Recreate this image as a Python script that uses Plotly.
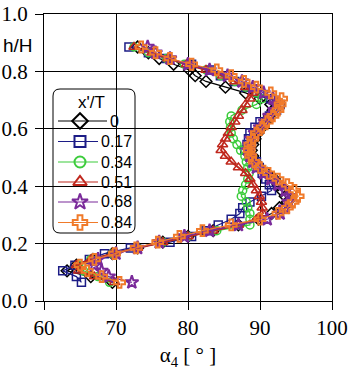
import plotly.graph_objects as go

# Measurement heights (h/H) shared by all traverses
h_levels = [0.065, 0.085, 0.105, 0.125, 0.145, 0.165, 0.185, 0.205, 0.225, 0.245,
            0.265, 0.285, 0.305, 0.325, 0.345, 0.365, 0.385, 0.405, 0.425, 0.445,
            0.465, 0.485, 0.505, 0.525, 0.545, 0.565, 0.585, 0.605, 0.625, 0.645,
            0.665, 0.685, 0.705, 0.725, 0.745, 0.765, 0.785, 0.805, 0.825, 0.845,
            0.865, 0.885]

# Flow angle alpha_4 [deg] at each height, one list per x'/T station
alpha_000 = [69.5, 66.5, 63.2, 64.5, 66.8, 69.5, 73.0, 76.5, 80.0, 83.5,
             87.0, 89.8, 91.6, 92.7, 93.8, 93.5, 93.0, 92.5, 92.0, 91.0,
             90.0, 89.3, 89.0, 88.8, 89.0, 89.3, 89.7, 90.3, 90.8, 91.3,
             91.8, 91.5, 90.0, 88.0, 85.2, 82.5, 81.0, 80.2, 78.0, 76.0,
             74.5, 73.0]
alpha_017 = [65.2, 64.5, 62.6, 64.3, 66.3, 68.4, 72.0, 77.5, 80.5, 82.5,
             84.2, 86.0, 87.2, 87.6, 88.6, 90.2, 91.6, 91.3, 90.8, 90.3,
             89.9, 89.5, 88.5, 87.9, 88.2, 88.4, 88.6, 89.3, 90.0, 91.3,
             92.3, 92.8, 91.5, 90.0, 88.0, 86.5, 84.5, 83.2, 80.5, 77.0,
             74.5, 71.8]
alpha_034 = [69.1, 67.5, 65.5, 64.8, 66.5, 69.5, 73.0, 76.5, 80.0, 84.0,
             88.6, 88.6, 88.6, 88.3, 88.1, 87.4, 87.6, 88.0, 88.3, 88.5,
             88.3, 88.1, 87.9, 87.3, 86.8, 86.3, 86.0, 85.9, 85.8, 86.0,
             87.5, 89.5, 90.3, 89.5, 88.0, 86.5, 84.5, 82.5, 79.5, 77.0,
             74.5, 72.5]
alpha_051 = [69.8, 67.0, 64.8, 64.5, 66.5, 69.5, 73.0, 76.5, 80.0, 83.5,
             87.0, 89.5, 90.4, 90.3, 90.2, 89.9, 89.5, 89.0, 88.6, 88.0,
             87.0, 86.0, 85.2, 84.6, 84.8, 85.2, 85.6, 86.0, 86.5, 87.0,
             87.5, 88.0, 88.6, 89.0, 88.0, 86.5, 84.8, 82.5, 79.8, 77.2,
             75.0, 72.5]
alpha_068 = [72.2, 69.0, 68.0, 67.0, 67.5, 70.0, 73.0, 76.0, 79.5, 83.0,
             87.0, 91.0, 92.8, 93.5, 94.0, 94.1, 93.5, 92.5, 91.5, 90.5,
             89.5, 89.0, 88.6, 88.4, 88.5, 88.8, 89.3, 90.0, 90.7, 91.3,
             92.0, 92.2, 91.8, 90.5, 89.0, 87.5, 85.5, 83.0, 80.0, 77.5,
             75.5, 74.4]
alpha_084 = [70.5, 68.0, 66.0, 65.0, 67.0, 69.8, 72.8, 75.8, 78.8, 82.0,
             86.0, 90.0, 92.5, 93.8, 94.6, 95.3, 94.8, 93.8, 92.5, 91.2,
             90.0, 89.2, 88.7, 88.5, 88.6, 89.0, 89.5, 90.3, 91.0, 91.8,
             92.5, 92.8, 93.0, 91.5, 89.5, 87.8, 86.0, 84.0, 80.5, 77.5,
             75.5, 73.5]

station_labels = ["0", "0.17", "0.34", "0.51", "0.68", "0.84"]
station_data = [alpha_000, alpha_017, alpha_034, alpha_051, alpha_068, alpha_084]

styles = [
    dict(color="#000000", symbol="diamond-open", size=9, lw=1.2, mlw=1.5, lsize=12),
    dict(color="#1c1c86", symbol="square-open", size=8, lw=1.2, mlw=1.5, lsize=11),
    dict(color="#3ccc3c", symbol="circle-open", size=8, lw=1.2, mlw=1.5, lsize=11),
    dict(color="#c0281e", symbol="triangle-up-open", size=9, lw=2.0, mlw=1.5, lsize=12),
    dict(color="#7a2a9a", symbol="star-open", size=10, lw=1.2, mlw=2, lsize=12),
    dict(color="#f07a2a", symbol="cross-open", size=9, lw=1.2, mlw=2, lsize=12),
]

W, H = 350, 371
ml, mr, mt, mb = 44, 18, 14, 70
pw, ph = W - ml - mr, H - mt - mb
X_RANGE = [60, 100]
Y_RANGE = [0, 1]


def px_x(p):
    return (p - ml) / pw


def px_y(p):
    return (H - mb - p) / ph


def px_to_data_x(p):
    return X_RANGE[0] + px_x(p) * (X_RANGE[1] - X_RANGE[0])


def px_to_data_y(p):
    return Y_RANGE[0] + px_y(p) * (Y_RANGE[1] - Y_RANGE[0])


serif = "Times New Roman, Times, Liberation Serif, Tinos, serif"
sans = "Arial, Liberation Sans, Helvetica, sans-serif"

fig = go.Figure()
for label, xs, st in zip(station_labels, station_data, styles):
    fig.add_trace(go.Scatter(
        x=xs, y=h_levels, name=label, mode="lines+markers", showlegend=False,
        line=dict(color=st["color"], width=st["lw"]),
        marker=dict(symbol=st["symbol"], size=st["size"], color=st["color"],
                    line=dict(color=st["color"], width=st["mlw"])),
    ))

# Legend: rounded white box, title, and one sample row per station
x0, x1 = px_x(53), px_x(135)
y0, y1 = px_y(233), px_y(89)
rx, ry = 7 / pw, 7 / ph
box_path = (f"M{x0 + rx},{y1} L{x1 - rx},{y1} Q{x1},{y1} {x1},{y1 - ry} "
            f"L{x1},{y0 + ry} Q{x1},{y0} {x1 - rx},{y0} L{x0 + rx},{y0} "
            f"Q{x0},{y0} {x0},{y0 + ry} L{x0},{y1 - ry} Q{x0},{y1} {x0 + rx},{y1} Z")

annotations = [
    dict(text="h/H", xref="paper", yref="paper", x=px_x(18), y=px_y(46),
         xanchor="center", yanchor="middle",
         showarrow=False, font=dict(family=sans, size=19, color="black")),
    dict(text="x'/T", xref="paper", yref="paper", x=px_x(91), y=px_y(102),
         xanchor="center", yanchor="middle",
         showarrow=False, font=dict(family=sans, size=17, color="black")),
]

row_y = [121, 141.5, 162, 182, 202, 222.5]
for label, st, ry_px in zip(station_labels, styles, row_y):
    line_end = 107 if label == "0" else 98
    ly = px_to_data_y(ry_px)
    fig.add_trace(go.Scatter(
        x=[px_to_data_x(58), px_to_data_x(line_end)], y=[ly, ly], mode="lines",
        line=dict(color=st["color"], width=1.2), showlegend=False, hoverinfo="skip"))
    fig.add_trace(go.Scatter(
        x=[px_to_data_x(80)], y=[ly], mode="markers", showlegend=False, hoverinfo="skip",
        marker=dict(symbol=st["symbol"], size=st["lsize"], color=st["color"],
                    line=dict(color=st["color"], width=2))))
    annotations.append(dict(text=label, xref="paper", yref="paper",
                            x=px_x(line_end + 1), y=px_y(ry_px),
                            xanchor="left", yanchor="middle",
                            showarrow=False, font=dict(family=sans, size=16, color="black")))

fig.update_layout(
    template="none",
    width=W, height=H,
    margin=dict(l=ml, r=mr, t=mt, b=mb, pad=0),
    paper_bgcolor="white", plot_bgcolor="white",
    font=dict(family=serif, color="black"),
    showlegend=False,
    shapes=[dict(type="path", path=box_path, xref="paper", yref="paper",
                 fillcolor="white", line=dict(color="black", width=1), layer="between")],
    annotations=annotations,
)

axis_common = dict(
    automargin=False,
    showline=True, linecolor="black", linewidth=1, mirror=True,
    showgrid=True, gridcolor="black", gridwidth=1, zeroline=False,
    ticks="outside", ticklen=8, tickcolor="black", tickwidth=1,
    tickfont=dict(family=serif, size=21, color="black"),
)
fig.update_xaxes(range=X_RANGE, dtick=10, tick0=60,
                 title=dict(text="α<sub>4</sub> [ ° ]", font=dict(family=serif, size=21, color="black"),
                            standoff=8),
                 **axis_common)
fig.update_yaxes(range=Y_RANGE, dtick=0.2, tick0=0, tickformat=".1f",
                 ticklabelstandoff=3, **axis_common)

fig.write_html("out.html")
